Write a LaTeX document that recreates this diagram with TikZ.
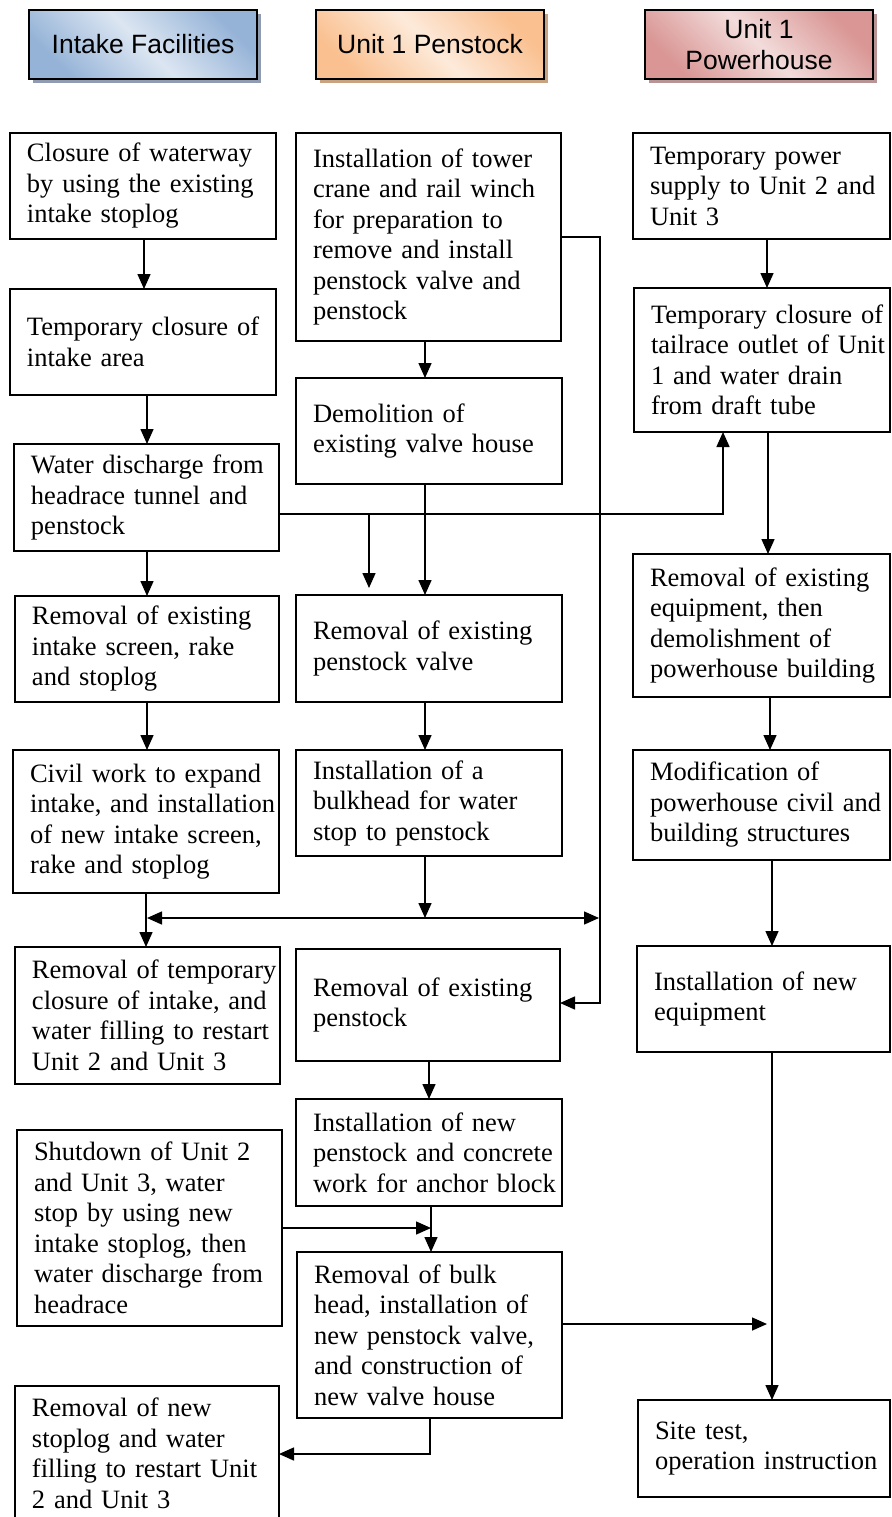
\documentclass[tikz,border=0pt]{standalone}
\usepackage{fontspec}
\setmainfont{Liberation Serif}
\newfontfamily\hdfont{Liberation Sans}
\usetikzlibrary{arrows.meta,calc}
\definecolor{bdark}{HTML}{95B3D7}
\definecolor{blight}{HTML}{DCE6F2}
\definecolor{bshad}{HTML}{8E9BB0}
\definecolor{odark}{HTML}{FAC090}
\definecolor{olight}{HTML}{FDEADA}
\definecolor{oshad}{HTML}{C9A27F}
\definecolor{pdark}{HTML}{D99694}
\definecolor{plight}{HTML}{F2DCDB}
\definecolor{pshad}{HTML}{B89494}
\tikzset{
  stepbox/.style={draw, line width=1.8pt, inner xsep=0pt, inner ysep=2pt, outer sep=0pt,
    align=left, font=\fontsize{26.5}{30.5}\selectfont},
  headbox/.style={draw, line width=1.8pt, inner sep=0pt, outer sep=0pt, align=center,
    font=\hdfont\fontsize{26.5}{31}\selectfont},
  arr/.style={line width=1.5pt, -{Triangle[length=15pt,width=13pt]}},
  darr/.style={line width=1.5pt, {Triangle[length=15pt,width=13pt]}-{Triangle[length=15pt,width=13pt]}},
}
\newcommand\fbx[6]{%
  \pgfmathsetmacro\bxw{#4-#2}%
  \pgfmathsetmacro\bxh{#5-#3}%
  \node[stepbox, anchor=north west, minimum width=\bxw pt, text width=\bxw pt,
        minimum height=\bxh pt] (#1) at (#2,#3) {\leftskip=17pt\relax #6\par};}
\newcommand\hbx[9]{%
  \pgfmathsetmacro\bxw{#4-#2}%
  \pgfmathsetmacro\bxh{#5-#3}%
  \fill[#8] ($(#2,#3)+(4,4)$) rectangle ($(#4,#5)+(4,4)$);
  \node[headbox, anchor=north west, minimum width=\bxw pt, minimum height=\bxh pt,
        left color=#6, right color=#6, middle color=#7, shading angle=135] (#1) at (#2,#3) {#9};}
\begin{document}
\begin{tikzpicture}[x=1pt,y=-1pt]
\useasboundingbox (0,0) rectangle (891,1517);
\clip (0,0) rectangle (891,1517);
\fill[white] (0,0) rectangle (891,1517);

% headers
\hbx{H1}{29}{10}{257}{79}{bdark}{blight}{bshad}{Intake Facilities}
\hbx{H2}{316}{10}{544}{79}{odark}{olight}{oshad}{Unit 1 Penstock}
\hbx{H3}{645}{10}{873}{79}{pdark}{plight}{pshad}{Unit 1\\Powerhouse}

% column A
\fbx{A1}{10}{133}{276}{239}{Closure of waterway\\by using the existing\\intake stoplog}
\fbx{A2}{10}{289}{276}{395}{Temporary closure of\\intake area}
\fbx{A3}{14}{444}{279}{551}{Water discharge from\\headrace tunnel and\\penstock}
\fbx{A4}{15}{596}{279}{702}{Removal of existing\\intake screen, rake\\and stoplog}
\fbx{A5}{13}{750}{279}{893}{Civil work to expand\\intake, and installation\\of new intake screen,\\rake and stoplog}
\fbx{A6}{15}{947}{280}{1084}{Removal of temporary\\closure of intake, and\\water filling to restart\\Unit 2 and Unit 3}
\fbx{D1}{17}{1130}{282}{1326}{Shutdown of Unit 2\\and Unit 3, water\\stop by using new\\intake stoplog, then\\water discharge from\\headrace}
\fbx{D2}{15}{1386}{279}{1521}{Removal of new\\stoplog and water\\filling to restart Unit\\2 and Unit 3}

% column B
\fbx{B1}{296}{133}{561}{341}{Installation of tower\\crane and rail winch\\for preparation to\\remove and install\\penstock valve and\\penstock}
\fbx{B2}{296}{378}{562}{484}{Demolition of\\existing valve house}
\fbx{B3}{296}{595}{562}{702}{Removal of existing\\penstock valve}
\fbx{B4}{296}{750}{562}{856}{Installation of a\\bulkhead for water\\stop to penstock}
\fbx{B5}{296}{949}{560}{1061}{Removal of existing\\penstock}
\fbx{B6}{296}{1099}{562}{1206}{Installation of new\\penstock and concrete\\work for anchor block}
\fbx{B7}{297}{1252}{562}{1418}{Removal of bulk\\head, installation of\\new penstock valve,\\and construction of\\new valve house}

% column C
\fbx{C1}{633}{133}{890}{239}{Temporary power\\supply to Unit 2 and\\Unit 3}
\fbx{C2}{634}{288}{890}{432}{Temporary closure of\\tailrace outlet of Unit\\1 and water drain\\from draft tube}
\fbx{C4}{633}{554}{890}{697}{Removal of existing\\equipment, then\\demolishment of\\powerhouse building}
\fbx{C5}{633}{750}{890}{860}{Modification of\\powerhouse civil and\\building structures}
\fbx{C6}{637}{946}{890}{1052}{Installation of new\\equipment}
\fbx{C7}{638}{1400}{890}{1497}{Site test,\\operation instruction}

% helper coordinates
\coordinate (xa1) at (144,0);
\coordinate (xa2) at (147,0);
\coordinate (xa3) at (146,0);
\coordinate (xb) at (425,0);
\coordinate (xb2) at (429,0);
\coordinate (xb3) at (431,0);
\coordinate (xc1) at (767,0);
\coordinate (xc2) at (768,0);
\coordinate (xc3) at (770,0);
\coordinate (xc4) at (772,0);
\coordinate (hL) at (147,918);
\coordinate (hR) at (599,918);
\coordinate (j1) at (723,514);
\coordinate (j2) at (369,514);
\coordinate (v1) at (600,237);
\coordinate (v2) at (600,1003);
\coordinate (r1) at (767,1324);
\coordinate (m1) at (430,1454);

% column A arrows
\draw[arr] (A1.south -| xa1) -- (A2.north -| xa1);
\draw[arr] (A2.south -| xa2) -- (A3.north -| xa2);
\draw[arr] (A3.south -| xa2) -- (A4.north -| xa2);
\draw[arr] (A4.south -| xa2) -- (A5.north -| xa2);
\draw[arr] (A5.south -| xa3) -- (A6.north -| xa3);

% water discharge to penstock valve and tailrace
\draw[arr] (A3.east |- j1) -- (j1) -- (C2.south -| j1);
\draw[arr] (j2) -- ($(j2 |- B3.north)+(0,-7)$);

% column B arrows
\draw[arr] (B1.south -| xb) -- (B2.north -| xb);
\draw[arr] (B2.south -| xb) -- (B3.north -| xb);
\draw[arr] (B3.south -| xb) -- (B4.north -| xb);
\draw[arr] (B4.south -| xb) -- (xb |- hL);
\draw[darr] (hL) -- (hR);
\draw[arr] (B1.east |- v1) -- (v1) -- (v2) -- (B5.east |- v2);
\draw[arr] (B5.south -| xb2) -- (B6.north -| xb2);
\draw[arr] (B6.south -| xb3) -- (B7.north -| xb3);
\draw[arr] (D1.east) -- (xb3 |- D1.east);
\draw[arr] (B7.east |- r1) -- (r1);
\draw[arr] (B7.south -| m1) -- (m1) -- (D2.east |- m1);

% column C arrows
\draw[arr] (C1.south -| xc1) -- (C2.north -| xc1);
\draw[arr] (C2.south -| xc2) -- (C4.north -| xc2);
\draw[arr] (C4.south -| xc3) -- (C5.north -| xc3);
\draw[arr] (C5.south -| xc4) -- (C6.north -| xc4);
\draw[arr] (C6.south -| xc4) -- (C7.north -| xc4);
\end{tikzpicture}
\end{document}
